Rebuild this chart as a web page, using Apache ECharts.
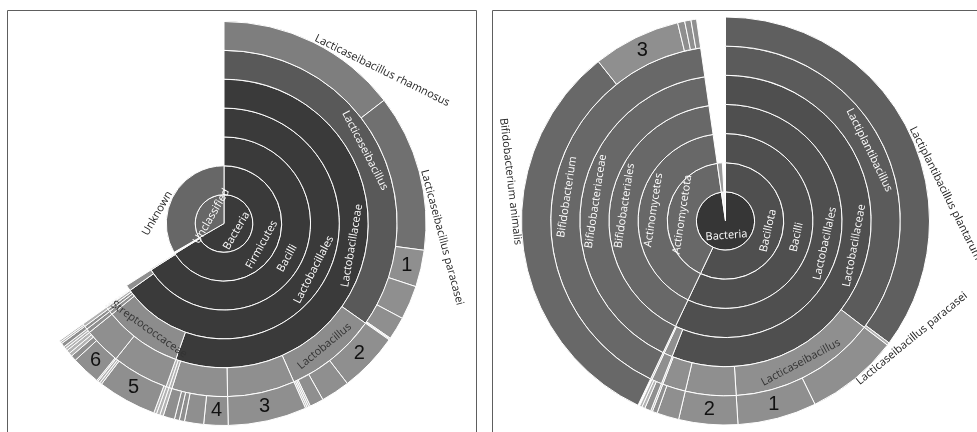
<!DOCTYPE html>
<html>
<head>
<meta charset="utf-8">
<script src="https://cdn.jsdelivr.net/npm/echarts@6/dist/echarts.min.js"></script>
<style>
  html, body { margin: 0; padding: 0; background: #ffffff; }
  #chart { width: 977px; height: 432px; }
</style>
</head>
<body>
<div id="chart"></div>
<script>
// ---------------------------------------------------------------
// Relative abundance (% of reads) per taxon, two samples.
// Each group lists the children of one lineage prefix.
// ---------------------------------------------------------------

// Sample A (left)
const A_LAB = 'Bacteria/Firmicutes/Bacilli/Lactobacillales';
const A_LCB = A_LAB + '/Lactobacillaceae';
const A_STR = A_LAB + '/Streptococcaceae';

const aLacticaseibacillus = [
  ['Lacticaseibacillus rhamnosus', 14.56],
  ['Lacticaseibacillus paracasei', 12.56],
  ['1', 2.94],
  ['Lacticaseibacillus sp. A', 2.72],
  ['Lacticaseibacillus sp. B', 1.83],
  ['Lacticaseibacillus sp. C', 0.08],
  ['Lacticaseibacillus sp. D', 0.08]
];
const aLactobacillus = [
  ['2', 4.78],
  ['Lactobacillus sp. A', 2.31],
  ['Lactobacillus sp. B', 1.11],
  ['Lactobacillus sp. C', 0.14],
  ['Lactobacillus sp. D', 0.14],
  ['Lactobacillus sp. E', 0.14]
];
const aGenusC = [['3', 6.28]];
const aGenusD = [
  ['4', 1.94],
  ['Genus D sp. A', 1.53],
  ['Genus D sp. B', 0.42],
  ['Genus D sp. C', 0.39],
  ['Genus D sp. D', 0.92]
];
const aGenusE = [['Genus E sp.', 0.28]];
const aGenusF = [['Genus F sp.', 0.28]];
const aStreptococcus = [
  ['Streptococcus sp. A', 0.22],
  ['5', 4.72],
  ['Streptococcus sp. B', 0.17],
  ['Streptococcus sp. C', 0.19]
];
const aLactococcus = [
  ['Lactococcus sp. A', 0.11],
  ['6', 2.33],
  ['Lactococcus sp. B', 0.44],
  ['Lactococcus sp. C', 0.28],
  ['Lactococcus sp. D', 0.28]
];
const aMinorFamily1 = [['Family 1 sp. A', 0.20], ['Family 1 sp. B', 0.19]];
const aMinorFamily2 = [['Family 2 sp.', 0.31]];
const aMinorFamily3 = [['Family 3 sp. A', 0.15], ['Family 3 sp. B', 0.13]];
const aOtherOrder = [['Order B family', 0.10], ['Order B family 2', 0.08]];
const aOtherOrderTotal = 0.83;
const aOtherClass = [['Class B', 0.22]];
const aOtherPhyla = [['Phylum B', 0.25], ['Phylum C', 0.22]];
const aUnclassified = [['Unknown', 33.33]];

// Sample B (right)
const B_LAB = 'Bacteria/Bacillota/Bacilli/Lactobacillales';
const B_LCB = B_LAB + '/Lactobacillaceae';
const B_BIF = 'Bacteria/Actinomycetota/Actinomycetes/Bifidobacteriales/Bifidobacteriaceae/Bifidobacterium';

const bLactiplantibacillus = [
  ['Lactiplantibacillus plantarum', 35.19],
  ['Lactiplantibacillus sp. A', 0.22]
];
const bLacticaseibacillus = [
  ['Lacticaseibacillus paracasei', 7.36],
  ['1', 6.25]
];
const bGenusC = [['2', 4.67]];
const bGenusD = [['Genus D sp. A', 1.75], ['Genus D sp. B', 0.39]];
const bGenusE = [['Genus E sp.', 0.14]];
const bOtherFamily = [['Family B sp. A', 0.50], ['Family B sp. B', 0.25], ['Family B sp. C', 0.19]];
const bMinorFamily = [['Family C sp.', 0.14]];
const bBifidobacterium = [
  ['Bifidobacterium animalis', 32.23],
  ['3', 6.94],
  ['Bifidobacterium sp. A', 0.56],
  ['Bifidobacterium sp. B', 0.50],
  ['Bifidobacterium sp. C', 0.44]
];
const bUnclassified = [['Unknown', 1.40]];
const bUnclassifiedTotal = 2.27;

// lineage prefix -> children
const groupsA = [
  [A_LCB + '/Lacticaseibacillus', aLacticaseibacillus],
  [A_LCB + '/Lactobacillus', aLactobacillus],
  [A_LCB + '/Genus C', aGenusC],
  [A_LCB + '/Genus D', aGenusD],
  [A_LCB + '/Genus E', aGenusE],
  [A_LCB + '/Genus F', aGenusF],
  [A_STR + '/Streptococcus', aStreptococcus],
  [A_STR + '/Lactococcus', aLactococcus],
  [A_LAB + '/Family 1/Family 1 genus', aMinorFamily1],
  [A_LAB + '/Family 2/Family 2 genus', aMinorFamily2],
  [A_LAB + '/Family 3/Family 3 genus', aMinorFamily3],
  ['Bacteria/Firmicutes/Bacilli/Order B', aOtherOrder],
  ['Bacteria/Firmicutes', aOtherClass],
  ['Bacteria', aOtherPhyla],
  ['Unclassified', aUnclassified]
];
const totalsA = [['Bacteria/Firmicutes/Bacilli/Order B', aOtherOrderTotal]];

const groupsB = [
  [B_LCB + '/Lactiplantibacillus', bLactiplantibacillus],
  [B_LCB + '/Lacticaseibacillus', bLacticaseibacillus],
  [B_LCB + '/Genus C', bGenusC],
  [B_LCB + '/Genus D', bGenusD],
  [B_LCB + '/Genus E', bGenusE],
  [B_LAB + '/Family B/Family B genus', bOtherFamily],
  [B_LAB + '/Family C', bMinorFamily],
  [B_BIF, bBifidobacterium],
  ['Unclassified', bUnclassified]
];
const totalsB = [['Unclassified', bUnclassifiedTotal]];

// ---------------------------------------------------------------
// Styling (kept apart from the values)
// ---------------------------------------------------------------
const FONT = '"Open Sans", "Noto Sans", sans-serif';
const LIGHT = '#8f8f8f';
const TRACE = '#b3b3b3';

const shadesA = {
  'Bacteria': '#3a3a3a', 'Firmicutes': '#3a3a3a', 'Bacilli': '#3a3a3a',
  'Lactobacillales': '#3a3a3a', 'Lactobacillaceae': '#3a3a3a',
  'Lacticaseibacillus': '#595959',
  'Lacticaseibacillus rhamnosus': '#7e7e7e',
  'Lacticaseibacillus paracasei': '#707070',
  'Unclassified': '#676767', 'Unknown': '#676767',
  'Streptococcaceae': '#8c8c8c', 'Lactobacillus': '#8c8c8c'
};
const shadesB = {
  'Bacteria': '#363636',
  'Bacillota': '#4f4f4f', 'Bacilli': '#4f4f4f', 'Lactobacillales': '#4f4f4f', 'Lactobacillaceae': '#4f4f4f',
  'Lactiplantibacillus': '#5b5b5b', 'Lactiplantibacillus plantarum': '#5f5f5f',
  'Actinomycetota': '#686868', 'Actinomycetes': '#686868', 'Bifidobacteriales': '#686868',
  'Bifidobacteriaceae': '#686868', 'Bifidobacterium': '#686868', 'Bifidobacterium animalis': '#686868',
  'Unclassified': '#f2f2f2', 'Unknown': '#9a9a9a'
};

const labelSets = {
  A: {
    white: ['Bacteria', 'Firmicutes', 'Bacilli', 'Lactobacillales', 'Lactobacillaceae', 'Lacticaseibacillus', 'Unclassified'],
    dark: ['Lactobacillus', 'Streptococcaceae'],
    outside: ['Lacticaseibacillus rhamnosus', 'Lacticaseibacillus paracasei', 'Unknown']
  },
  B: {
    white: ['Bacteria', 'Bacillota', 'Bacilli', 'Lactobacillales', 'Lactobacillaceae', 'Lactiplantibacillus',
            'Actinomycetota', 'Actinomycetes', 'Bifidobacteriales', 'Bifidobacteriaceae', 'Bifidobacterium'],
    dark: ['Lacticaseibacillus'],
    outside: ['Lactiplantibacillus plantarum', 'Lacticaseibacillus paracasei', 'Bifidobacterium animalis']
  }
};

// ---------------------------------------------------------------
// Tree building
// ---------------------------------------------------------------
function buildTree(groups, totals) {
  const root = { children: [] };
  const getNode = (path) => {
    let cur = root;
    for (const part of path.split('/')) {
      let next = cur.children.find(c => c.name === part);
      if (!next) { next = { name: part, children: [] }; cur.children.push(next); }
      cur = next;
    }
    return cur;
  };
  for (const [prefix, rows] of groups) {
    for (const [name, v] of rows) getNode(prefix + '/' + name).value = v;
  }
  for (const [path, v] of totals) getNode(path).value = v;
  const fill = (n) => {
    if (!n.children.length) { delete n.children; n._v = n.value; return n.value; }
    const s = n.children.reduce((acc, c) => acc + fill(c), 0);
    n._v = n.value != null ? n.value : s;
    return n._v;
  };
  root.children.forEach(fill);
  return root.children;
}

// mid-angle (math convention) of every sector, sweeping clockwise from 12 o'clock
function assignAngles(nodes, start, degPerUnit) {
  let a = start;
  for (const n of nodes) {
    const sweep = n._v * degPerUnit;
    n._mid = 90 - (a + sweep / 2);
    if (n.children) assignAngles(n.children, a, degPerUnit);
    a += sweep;
  }
}

// text direction along the arc, kept upright
function tangentialDeg(mid) {
  let t = mid - 90;
  while (t > 180) t -= 360;
  while (t <= -180) t += 360;
  if (t > 90) t -= 180;
  if (t <= -90) t += 180;
  return t;
}

function decorate(nodes, shades, sets) {
  for (const n of nodes) {
    const col = shades[n.name] || (n._v < 0.3 ? TRACE : LIGHT);
    n.itemStyle = { color: col };
    if (/^\d$/.test(n.name)) {
      n.label = { show: true, rotate: 0, fontSize: 20, color: '#111111',
                  fontFamily: '"Liberation Sans", Arial, sans-serif' };
    } else if (sets.outside.includes(n.name)) {
      n.label = { show: true, position: 'outside', distance: 5, rotate: tangentialDeg(n._mid),
                  color: '#1e1e1e', fontSize: 11 };
    } else if (sets.white.includes(n.name)) {
      n.label = { show: true, rotate: 'tangential', color: '#ffffff', fontSize: 11 };
    } else if (sets.dark.includes(n.name)) {
      n.label = { show: true, rotate: 'tangential', color: '#333333', fontSize: 11 };
    }
    if (n.children) decorate(n.children, shades, sets);
  }
}

function prepare(groups, totals, shades, sets) {
  const data = buildTree(groups, totals);
  const sum = data.reduce((s, n) => s + n._v, 0);
  assignAngles(data, 0, 360 / sum);
  decorate(data, shades, sets);
  const strip = (n) => { delete n._v; delete n._mid; (n.children || []).forEach(strip); };
  data.forEach(strip);
  return data;
}

const dataA = prepare(groupsA, totalsA, shadesA, labelSets.A);
const dataB = prepare(groupsB, totalsB, shadesB, labelSets.B);

const baseSeries = {
  type: 'sunburst',
  sort: null,
  startAngle: 90,
  nodeClick: false,
  emphasis: { disabled: true },
  itemStyle: { borderColor: '#ffffff', borderWidth: 1 },
  label: { show: false, fontFamily: FONT, fontSize: 11 }
};

const chart = echarts.init(document.getElementById('chart'), null, { renderer: 'canvas' });
chart.setOption({
  animation: false,
  backgroundColor: '#ffffff',
  graphic: [
    { type: 'rect', silent: true, z: -10,
      shape: { x: 7.5, y: 10.5, width: 469, height: 440 },
      style: { fill: 'none', stroke: '#5e5e5e', lineWidth: 1 } },
    { type: 'rect', silent: true, z: -10,
      shape: { x: 492.5, y: 10.5, width: 520, height: 440 },
      style: { fill: 'none', stroke: '#5e5e5e', lineWidth: 1 } }
  ],
  series: [
    Object.assign({}, baseSeries, { center: [224, 223.5], radius: [0, 202], data: dataA }),
    Object.assign({}, baseSeries, { center: [725.5, 221], radius: [0, 204], data: dataB })
  ]
});
</script>
</body>
</html>
